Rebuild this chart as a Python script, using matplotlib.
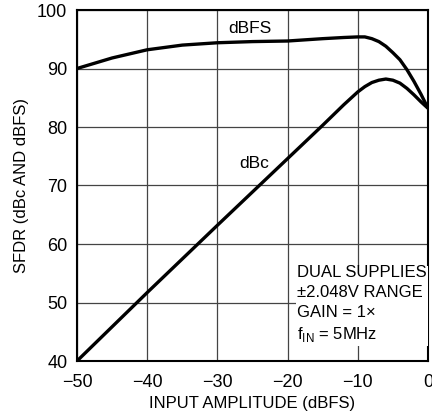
import matplotlib
matplotlib.use("Agg")
import matplotlib.pyplot as plt

plt.rcParams['font.family'] = ['Liberation Sans', 'DejaVu Sans']

# dBFS curve
dbfs_x = [-50, -45, -40, -35, -30, -25, -20, -15, -12, -10, -9, -8, -7, -6, -5, -4, -3, -2, -1, 0]
dbfs_y = [90, 91.8, 93.2, 94.0, 94.4, 94.6, 94.7, 95.1, 95.3, 95.4, 95.4, 95.1, 94.6, 93.8, 92.7, 91.5, 89.8, 87.8, 85.6, 83.2]

# dBc curve
dbc_x = [-50, -40, -30, -20, -15, -12, -10, -9, -8, -7, -6, -5, -4, -3, -2, -1, 0]
dbc_y = [40, 51.7, 63.2, 74.6, 80.3, 83.8, 86.0, 86.9, 87.6, 88.0, 88.2, 88.0, 87.5, 86.6, 85.5, 84.3, 83.2]

xticks = [-50, -40, -30, -20, -10, 0]
yticks = [40, 50, 60, 70, 80, 90, 100]

fig = plt.figure(figsize=(4.32, 4.19), dpi=100)
ax = fig.add_axes([77 / 432, 58 / 419, 351 / 432, 351 / 419])

ax.plot(dbfs_x, dbfs_y, color="black", lw=2.4, solid_capstyle="butt")
ax.plot(dbc_x, dbc_y, color="black", lw=2.4, solid_capstyle="butt")

ax.set_xlim(-50, 0)
ax.set_ylim(40, 100)
ax.set_xticks(xticks)
ax.set_yticks(yticks)
ax.set_xticklabels([str(t).replace("-", "\u2212") for t in xticks])
ax.grid(True, color="#444444", lw=0.9)
ax.tick_params(length=0, labelsize=13)
ax.tick_params(axis="x", pad=9)
ax.tick_params(axis="y", pad=7)
for s in ax.spines.values():
    s.set_linewidth(1.5)

ax.set_xlabel("INPUT AMPLITUDE (dBFS)", fontsize=12, labelpad=4)
ax.set_ylabel("SFDR (dBc AND dBFS)", fontsize=12, labelpad=6)

ax.text(-25.4, 96.9, "dBFS", fontsize=12.5, ha="center", va="center")
ax.text(-24.8, 73.8, "dBc", fontsize=12.5, ha="center", va="center")

ax.text(-18.6, 56.4,
        "DUAL SUPPLIES\n\u00b12.048V RANGE\nGAIN = 1\u00d7\nf$_\\mathregular{IN}$ = 5MHz",
        fontsize=12, ha="left", va="top", linespacing=1.4,
        bbox=dict(facecolor="white", edgecolor="none", pad=1))

fig.savefig("out.png", dpi=100)
